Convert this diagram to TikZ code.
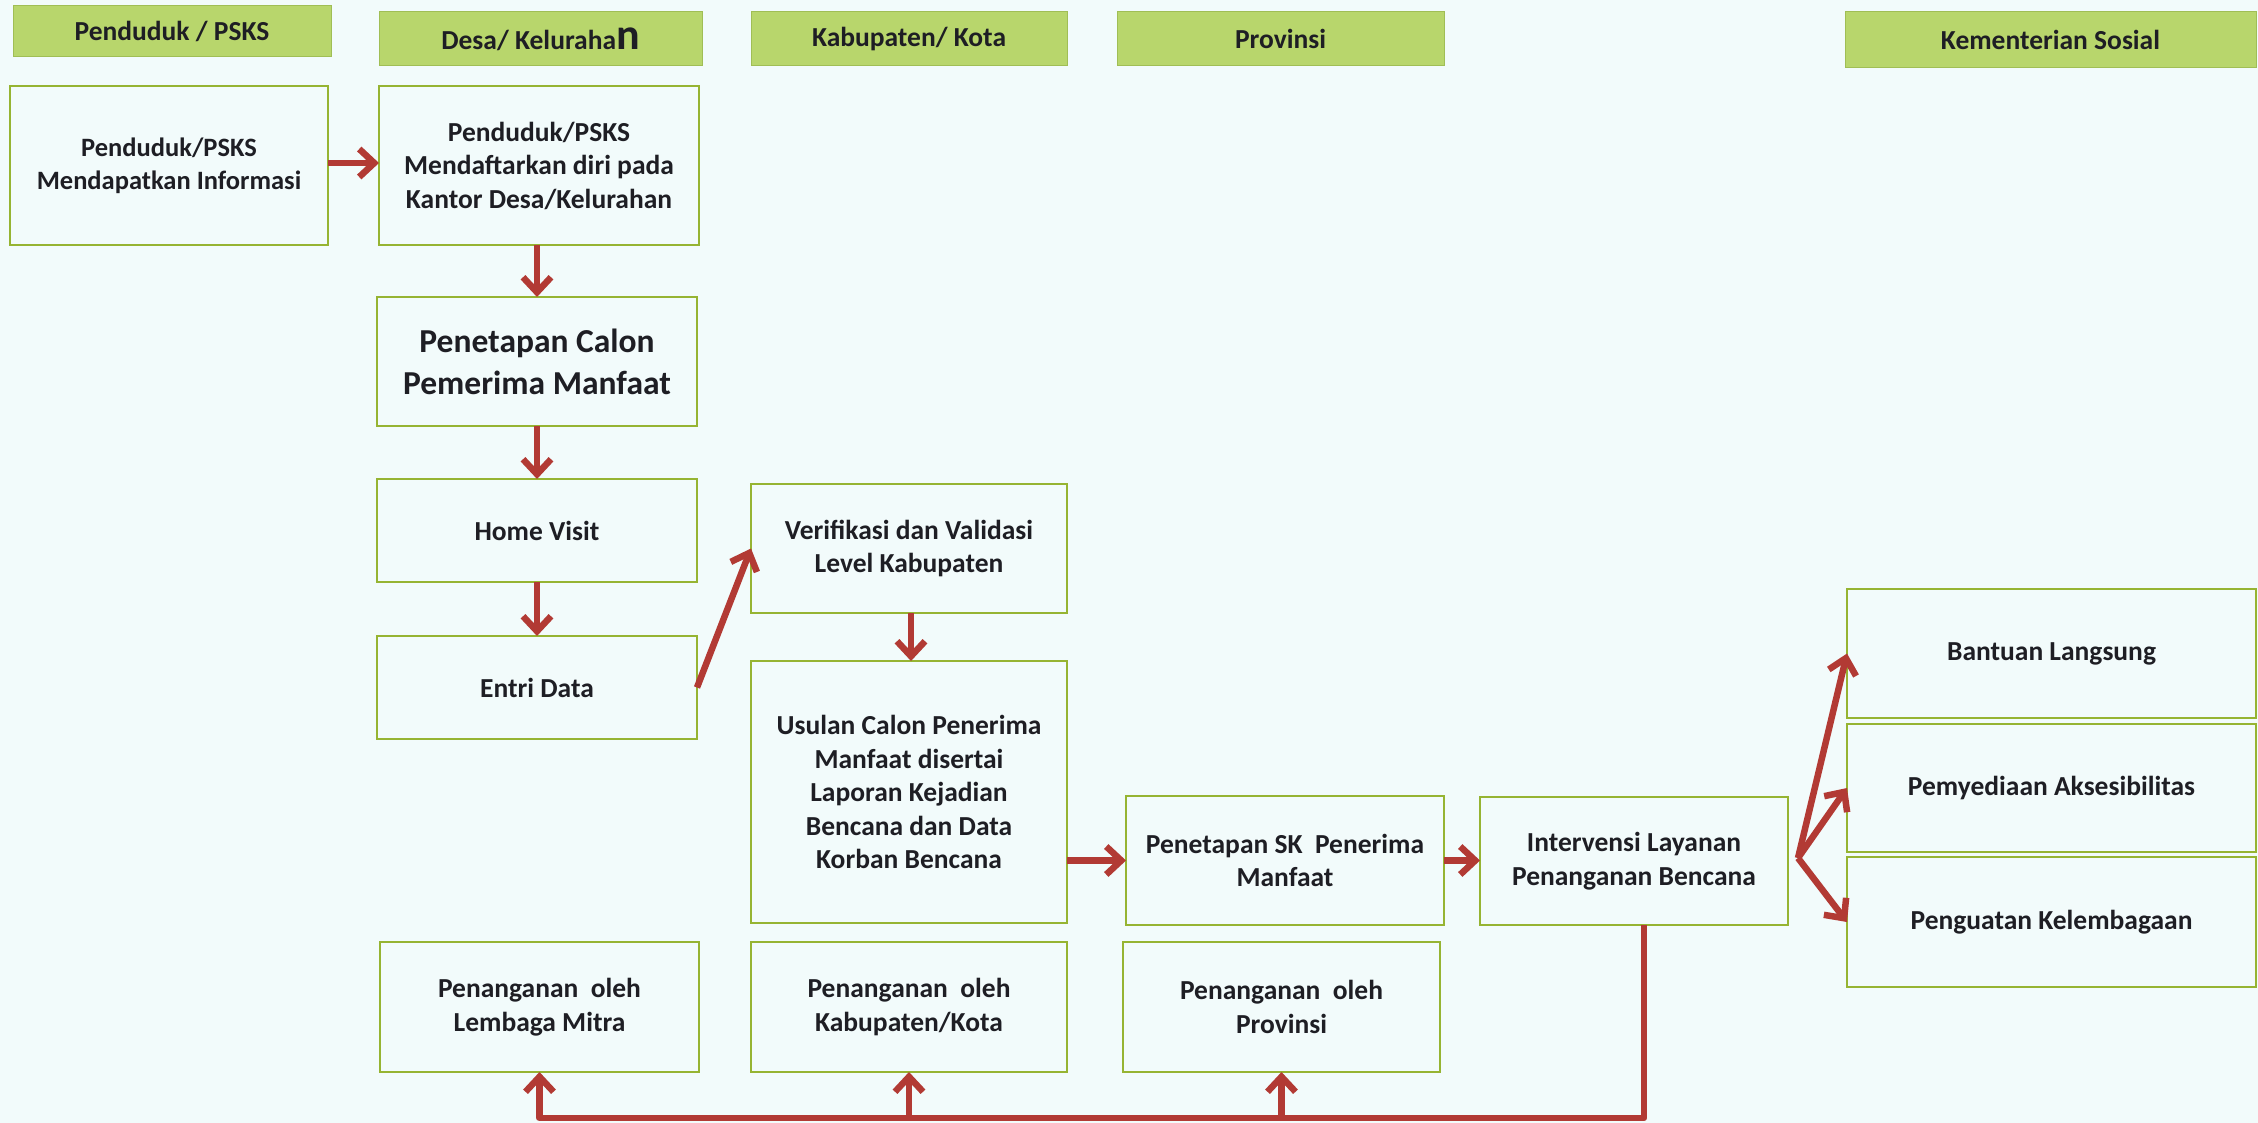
\documentclass[tikz,border=0pt]{standalone}
\usepackage{fontspec}
\setmainfont{Carlito}
\usetikzlibrary{arrows.meta,calc}
\definecolor{bg}{RGB}{242,251,251}
\definecolor{hdrfill}{RGB}{184,214,108}
\definecolor{hdrline}{RGB}{160,190,85}
\definecolor{boxline}{RGB}{150,180,50}
\definecolor{arrowred}{RGB}{178,58,52}
\definecolor{txt}{RGB}{30,30,36}
\begin{document}
\begin{tikzpicture}[x=1pt,y=-1pt,
  every node/.style={inner sep=0pt, outer sep=0pt},
  hdr/.style={draw=hdrline, line width=1pt, fill=hdrfill, text=txt, align=center,
    font=\bfseries\fontsize{27.5}{30}\selectfont},
  box/.style={draw=boxline, line width=2pt, text=txt, align=center,
    font=\bfseries\fontsize{27.5}{33.5}\selectfont},
  conn/.style={draw=arrowred, line width=6.5pt, line join=round},
  arr/.style={conn, -{Straight Barb[length=15pt,width=28pt,line width=6.5pt]}}
]
\useasboundingbox (0,0) rectangle (2258,1123);
\fill[bg] (0,0) rectangle (2258,1123);

% headers
\node[hdr, minimum width=318pt, minimum height=51pt] (H1) at (172,31.5) {Penduduk / PSKS};
\node[hdr, minimum width=323pt, minimum height=54pt] (H2) at (540.5,39) {Desa/ Keluraha{\fontsize{44}{44}\selectfont n}};
\node[hdr, minimum width=316pt, minimum height=54pt] (H3) at (909,39) {Kabupaten/ Kota};
\node[hdr, minimum width=327pt, minimum height=54pt] (H4) at (1280.5,39) {Provinsi};
\node[hdr, minimum width=411pt, minimum height=56pt] (H5) at (2050.5,40) {Kementerian Sosial};

% boxes
\node[box, minimum width=318pt, minimum height=159pt, font=\bfseries\fontsize{26.5}{33}\selectfont] (B1) at (169,165.5) {Penduduk/PSKS\\Mendapatkan Informasi};
\node[box, minimum width=320pt, minimum height=159pt] (B2) at (539,165.5) {Penduduk/PSKS\\Mendaftarkan diri pada\\Kantor Desa/Kelurahan};
\node[box, minimum width=320pt, minimum height=129pt, font=\bfseries\fontsize{33.5}{42}\selectfont] (B3) at (537,361.5) {Penetapan Calon\\Pemerima Manfaat};
\node[box, minimum width=320pt, minimum height=103pt] (B4) at (537,530.5) {Home Visit};
\node[box, minimum width=320pt, minimum height=103pt] (B5) at (537,687.5) {Entri Data};
\node[box, minimum width=316pt, minimum height=129pt] (B6) at (909,548.5) {Verifikasi dan Validasi\\Level Kabupaten};
\node[box, minimum width=316pt, minimum height=262pt] (B7) at (909,792) {Usulan Calon Penerima\\Manfaat disertai\\Laporan Kejadian\\Bencana dan Data\\Korban Bencana};
\node[box, minimum width=318pt, minimum height=129pt] (B8) at (1285,860.5) {Penetapan SK\ \ Penerima\\Manfaat};
\node[box, minimum width=308pt, minimum height=128pt] (B9) at (1634,861) {Intervensi Layanan\\Penanganan\ Bencana};
\node[box, minimum width=409pt, minimum height=129pt] (B10) at (2051.5,653.5) {Bantuan Langsung};
\node[box, minimum width=409pt, minimum height=128pt] (B11) at (2051.5,788) {Pemyediaan Aksesibilitas};
\node[box, minimum width=409pt, minimum height=130pt] (B12) at (2051.5,922) {Penguatan Kelembagaan};
\node[box, minimum width=319pt, minimum height=130pt] (B13) at (539.5,1007) {Penanganan\ \ oleh\\Lembaga Mitra};
\node[box, minimum width=316pt, minimum height=130pt] (B14) at (909,1007) {Penanganan\ \ oleh\\Kabupaten/Kota};
\node[box, minimum width=317pt, minimum height=130pt] (B15) at (1281.5,1007) {Penanganan\ \ oleh\\Provinsi};

% connectors
\draw[arr] (B1.east |- 0,163) -- (B2.west |- 0,163);
\draw[arr] (B2.south -| 537,0) -- (B3.north -| 537,0);
\draw[arr] (B3.south) -- (B4.north);
\draw[arr] (B4.south) -- (B5.north);
\draw[arr] (B5.east) -- (B6.west);
\draw[arr] (B6.south -| 911,0) -- (B7.north -| 911,0);
\draw[arr] (B8.west -| B7.east) -- (B8.west);
\draw[arr] (B8.east) -- (B9.west |- B8.east);
\coordinate (fan) at (1798,858);
\draw[arr] (fan) -- (B10.west);
\draw[arr] (fan) -- (B11.west);
\draw[arr] (fan) -- (B12.west);
\coordinate (drop) at (1644,1118);
\draw[arr] (B9.south -| drop) -- (drop) -- (drop -| B13.south) -- (B13.south);
\draw[arr] (drop -| B14.south) -- (B14.south);
\draw[arr] (drop -| B15.south) -- (B15.south);
\end{tikzpicture}
\end{document}
